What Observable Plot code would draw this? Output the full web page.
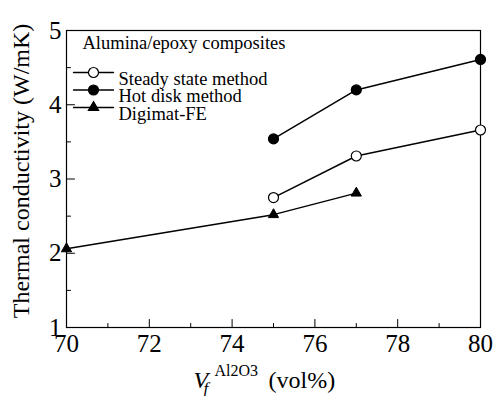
<!DOCTYPE html>
<html>
<head>
<meta charset="utf-8">
<script src="https://cdn.jsdelivr.net/npm/d3@7"></script>
<script src="https://cdn.jsdelivr.net/npm/@observablehq/plot@0.6"></script>
<style>
  html, body { margin: 0; padding: 0; background: #fff; }
  #chart { font-family: 'Liberation Serif', serif; }
</style>
</head>
<body>
<div id="chart"></div>
<script>
// ---- data ----
const seriesNames = ["Steady state method", "Hot disk method", "Digimat-FE"];
const steadyX = [75, 77, 80];
const steadyY = [2.75, 3.31, 3.66];
const hotX = [75, 77, 80];
const hotY = [3.54, 4.20, 4.61];
const digiX = [70, 75, 77];
const digiY = [2.06, 2.52, 2.81];
const xMajor = [70, 72, 74, 76, 78, 80];
const xMinor = [71, 73, 75, 77, 79];
const yMajor = [1, 2, 3, 4, 5];
const yMinor = [1.5, 2.5, 3.5, 4.5];
const legendTitle = "Alumina/epoxy composites";
const yLabel = "Thermal conductivity (W/mK)";
const xLabelParts = ["V", "f", "Al2O3", "(vol%)"];

const FONT = "Liberation Serif";

const toRows = (xs, ys, name) => xs.map((x, i) => ({x, y: ys[i], name}));
const steady = toRows(steadyX, steadyY, seriesNames[0]);
const hot = toRows(hotX, hotY, seriesNames[1]);
const digi = toRows(digiX, digiY, seriesNames[2]);

const lineShape = {draw(ctx, l) { ctx.moveTo(0, 0); ctx.lineTo(0, -l); }};
const styles = [
  {symbol: "circle", fill: "white", r: 5},
  {symbol: "circle", fill: "black", r: 5},
  {symbol: "triangle", fill: "black", r: 3.8}
];

const legendMarks = [];
seriesNames.forEach((name, i) => {
  const dy = 42 + i * 17.5;
  legendMarks.push(
    Plot.vector([0], {frameAnchor: "top-left", dx: 7, dy, length: 40, rotate: 90, anchor: "start", shape: lineShape, stroke: "black", strokeWidth: 1.3}),
    Plot.dot([0], {frameAnchor: "top-left", dx: 27, dy, r: styles[i].r, symbol: styles[i].symbol, fill: styles[i].fill, stroke: "black", strokeWidth: 1.2}),
    Plot.text([name], {frameAnchor: "top-left", dx: 52, dy: dy - 1, text: d => d, textAnchor: "start", fontSize: 18.5, fontFamily: FONT, fill: "black"})
  );
});

const t = {fontFamily: FONT, fill: "black", lineAnchor: "bottom", textAnchor: "start", frameAnchor: "bottom-left", text: d => d};

const chart = Plot.plot({
  width: 494,
  height: 396,
  marginLeft: 66,
  marginRight: 14,
  marginTop: 30,
  marginBottom: 69,
  style: {color: "black", background: "white", fontFamily: FONT},
  x: {domain: [70, 80], axis: null},
  y: {domain: [1, 5], axis: null},
  marks: [
    // tick labels
    Plot.text(xMajor, {x: d => d, frameAnchor: "bottom", dy: 7, lineAnchor: "top", text: d => String(d), fontSize: 25, fontFamily: FONT, fill: "black"}),
    Plot.text(yMajor, {y: d => d, frameAnchor: "left", dx: -5, textAnchor: "end", lineAnchor: "middle", text: d => String(d), fontSize: 25, fontFamily: FONT, fill: "black"}),
    // inward ticks
    Plot.vector(xMajor, {x: d => d, frameAnchor: "bottom", length: 8, rotate: 0, anchor: "start", shape: lineShape, stroke: "black", strokeWidth: 1}),
    Plot.vector(xMinor, {x: d => d, frameAnchor: "bottom", length: 4, rotate: 0, anchor: "start", shape: lineShape, stroke: "black", strokeWidth: 1}),
    Plot.vector(yMajor, {y: d => d, frameAnchor: "left", length: 8, rotate: 90, anchor: "start", shape: lineShape, stroke: "black", strokeWidth: 1}),
    Plot.vector(yMinor, {y: d => d, frameAnchor: "left", length: 4, rotate: 90, anchor: "start", shape: lineShape, stroke: "black", strokeWidth: 1}),
    Plot.frame({stroke: "black", strokeWidth: 1.2}),
    // series
    Plot.line(steady, {x: "x", y: "y", stroke: "black", strokeWidth: 1.5}),
    Plot.line(hot, {x: "x", y: "y", stroke: "black", strokeWidth: 1.5}),
    Plot.line(digi, {x: "x", y: "y", stroke: "black", strokeWidth: 1.5}),
    Plot.dot(steady, {x: "x", y: "y", r: 5, fill: "white", stroke: "black", strokeWidth: 1.2}),
    Plot.dot(hot, {x: "x", y: "y", r: 5, fill: "black", stroke: "black", strokeWidth: 1.2}),
    Plot.dot(digi, {x: "x", y: "y", r: 3.8, symbol: "triangle", fill: "black", stroke: "black", strokeWidth: 1}),
    // legend
    Plot.text([legendTitle], {frameAnchor: "top-left", dx: 16, dy: 18, text: d => d, textAnchor: "start", lineAnchor: "bottom", fontSize: 18.5, fontFamily: FONT, fill: "black"}),
    ...legendMarks,
    // y-axis title
    Plot.text([yLabel], {frameAnchor: "left", dx: -45, dy: -8, rotate: -90, textAnchor: "middle", lineAnchor: "middle", text: d => d, fontSize: 24, fontFamily: FONT, fill: "black"}),
    // x-axis title: V_f^{Al2O3} (vol%)
    Plot.text([xLabelParts[0]], {...t, dx: 127, dy: 60, fontSize: 24, fontStyle: "italic"}),
    Plot.text([xLabelParts[1]], {...t, dx: 137, dy: 66, fontSize: 17, fontStyle: "italic"}),
    Plot.text([xLabelParts[2]], {...t, dx: 148, dy: 48, fontSize: 16}),
    Plot.text([xLabelParts[3]], {...t, dx: 202, dy: 60, fontSize: 24})
  ]
});

document.getElementById("chart").appendChild(chart);
</script>
</body>
</html>
